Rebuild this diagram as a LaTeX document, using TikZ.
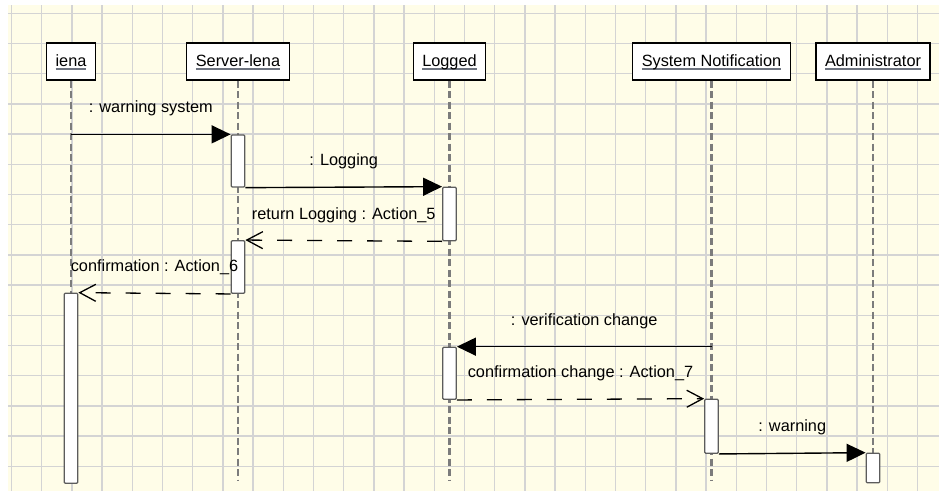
\documentclass[tikz,border=0pt]{standalone}
\usepackage{fontspec}
\setmainfont{Liberation Sans}
\usetikzlibrary{arrows.meta}
\definecolor{Cream}{HTML}{FFFDE8}
\definecolor{GridGray}{HTML}{D4D4D4}
\definecolor{LineGray}{HTML}{7C7C7C}
\definecolor{BarEdge}{HTML}{5C5C5C}
\definecolor{UnderGray}{HTML}{6E7480}
\newcommand{\lifelabel}[1]{\setbox0\hbox{#1}\rlap{\textcolor{UnderGray}{\rule[-3pt]{\wd0}{1.2pt}}}\box0}
\tikzset{
  lifehead/.style={
    draw=black, line width=1.1pt, fill=white, inner xsep=9pt,
    minimum height=37pt, text height=12.5pt, text depth=2.5pt,
    font=\fontsize{16.3}{19}\selectfont
  },
  lifeline/.style={draw=LineGray, line width=2.2pt, dash pattern=on 7pt off 3.5pt},
  bar/.style={
    draw=BarEdge, line width=1.3pt, fill=white, rounded corners=1pt,
    minimum width=13.5pt, inner sep=0pt
  },
  call/.style={-{Triangle[length=19pt,width=18pt]}, line width=1.4pt, draw=black},
  reply/.style={-{Straight Barb[length=16pt,width=17pt]}, line width=1.3pt,
    draw=black, dash pattern=on 15pt off 15pt},
  msglabel/.style={midway, anchor=base, yshift=21.5pt, inner sep=0pt,
    font=\fontsize{16.3}{19}\selectfont}
}

\begin{document}
\begin{tikzpicture}[x=1pt,y=-1pt,
    gridline/.style={draw=GridGray, line width=1.3pt}]
  \useasboundingbox (0,0) rectangle (939,493);
  \fill[Cream] (8,5) rectangle (939,491);
  \foreach \i in {0,...,30}
    \draw[gridline] ({11.5+30.2*\i},5) -- ({11.5+30.2*\i},491);
  \foreach \j in {0,...,15}
    \draw[gridline] (8,{13.3+30.2*\j}) -- (939,{13.3+30.2*\j});

  \node[lifehead] (iena) at (71,61.5) {\lifelabel{iena}};
  \node[lifehead] (server) at (238,61.5) {\lifelabel{Server-lena}};
  \node[lifehead] (logged) at (449.5,61.5) {\lifelabel{Logged}};
  \node[lifehead] (notif) at (711.5,61.5) {\lifelabel{System Notification}};
  \node[lifehead] (admin) at (873,61.5) {\lifelabel{Administrator}};

  \foreach \n in {iena,server,logged,notif,admin} {
    \coordinate (\n-end) at (\n |- 0,481);
    \draw[lifeline] (\n.south) -- (\n-end);
  }

  \node[bar, minimum height=52pt] (srvA) at (server |- 0,161) {};
  \node[bar, minimum height=53.4pt] (logA) at (logged |- 0,214) {};
  \node[bar, minimum height=52.6pt] (srvB) at (server |- 0,267) {};
  \node[bar, minimum height=190pt] (ienaA) at (iena |- 0,388.3) {};
  \node[bar, minimum height=52pt] (logB) at (logged |- 0,373.3) {};
  \node[bar, minimum height=54pt] (notifA) at (notif |- 0,426.3) {};
  \node[bar, minimum height=29.4pt] (adminA) at (admin |- 0,468) {};

  \draw[call] (iena |- srvA.north) -- (srvA.north west)
    node[msglabel] {: warning system};
  \draw[call] (srvA.south east) -- (logA.north west)
    node[msglabel] {: Logging};
  \draw[reply] (logA.south west) -- (srvB.north east)
    node[msglabel] {return Logging : Action\_5};
  \draw[reply] (srvB.south west) -- (ienaA.north east)
    node[msglabel] {confirmation : Action\_6};
  \draw[call] (notif |- logB.north) -- (logB.north east)
    node[msglabel] {: verification change};
  \draw[reply] (logB.south east) -- (notifA.north west)
    node[msglabel] {confirmation change : Action\_7};
  \draw[call] (notifA.south east) -- (adminA.north west)
    node[msglabel] {: warning};
\end{tikzpicture}
\end{document}
